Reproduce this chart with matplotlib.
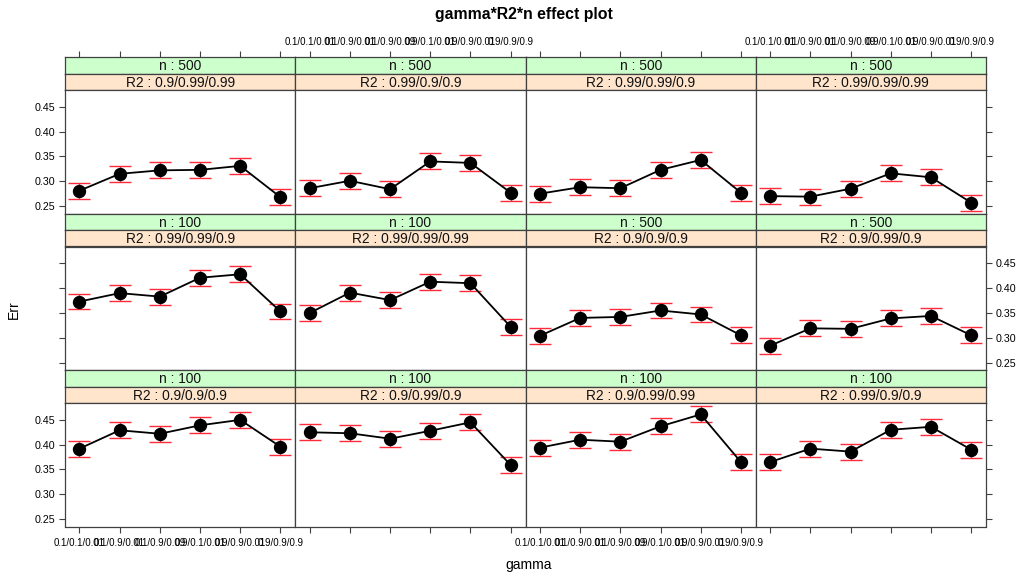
import matplotlib
matplotlib.use("Agg")
import matplotlib.pyplot as plt

plt.rcParams['font.family'] = ['Liberation Sans', 'DejaVu Sans']

# gamma levels on the x axis
gamma_labels = ["0.1/0.1/0.01", "0.1/0.9/0.01", "0.1/0.9/0.09",
                "0.9/0.1/0.01", "0.9/0.9/0.01", "0.9/0.9/0.9"]

# panels, read row by row from the top left
n_strip = ["500", "500", "500", "500",
           "100", "100", "500", "500",
           "100", "100", "100", "100"]
r2_strip = ["0.9/0.99/0.99", "0.99/0.9/0.9", "0.99/0.99/0.9", "0.99/0.99/0.99",
            "0.99/0.99/0.9", "0.99/0.99/0.99", "0.9/0.9/0.9", "0.9/0.99/0.9",
            "0.9/0.9/0.9", "0.9/0.99/0.9", "0.9/0.99/0.99", "0.99/0.9/0.9"]
err = [
    [0.281, 0.315, 0.322, 0.323, 0.331, 0.268],
    [0.286, 0.301, 0.284, 0.340, 0.337, 0.277],
    [0.275, 0.288, 0.286, 0.323, 0.343, 0.277],
    [0.270, 0.269, 0.285, 0.316, 0.308, 0.257],
    [0.373, 0.390, 0.383, 0.421, 0.428, 0.353],
    [0.350, 0.391, 0.376, 0.413, 0.410, 0.322],
    [0.304, 0.340, 0.342, 0.355, 0.347, 0.305],
    [0.284, 0.319, 0.318, 0.339, 0.344, 0.305],
    [0.392, 0.429, 0.422, 0.439, 0.450, 0.396],
    [0.425, 0.423, 0.412, 0.428, 0.445, 0.359],
    [0.394, 0.410, 0.406, 0.437, 0.461, 0.365],
    [0.365, 0.392, 0.386, 0.430, 0.436, 0.390],
]
ci_half = [0.016, 0.016, 0.016, 0.016, 0.016, 0.016,
           0.016, 0.016, 0.016, 0.016, 0.016, 0.016]
y_ticks = [0.25, 0.30, 0.35, 0.40, 0.45]

W, H = 1032, 577
fig = plt.figure(figsize=(W / 100, H / 100), dpi=100)


def box(x0, top, w, h):
    return [x0 / W, 1 - (top + h) / H, w / W, h / H]


left, col_w = 65, 230.25
top0, row_h, strip_h = 57, 156.5, 16.5
frame = '#404040'
xs = list(range(1, len(gamma_labels) + 1))

for k in range(12):
    r, c = divmod(k, 4)
    x0 = left + c * col_w
    t = top0 + r * row_h

    # strips
    for j, (txt, col) in enumerate([("n : " + n_strip[k], '#ccffcc'),
                                    ("R2 : " + r2_strip[k], '#ffe5cc')]):
        sa = fig.add_axes(box(x0, t + j * strip_h, col_w, strip_h))
        sa.set_facecolor(col)
        sa.set_xlim(0.64, 6.37)
        sa.set_yticks([])
        sa.tick_params(axis='x', bottom=False, labelbottom=False)
        for s in sa.spines.values():
            s.set_color(frame)
            s.set_linewidth(0.9)
        sa.text(0.5, 0.45, txt, transform=sa.transAxes, ha='center', va='center',
                fontsize=9.9, color='#111111')
        if r == 0 and j == 0:
            sa.set_xticks(xs)
            sa.set_xticklabels(gamma_labels)
            sa.tick_params(axis='x', top=True, labeltop=(c % 2 == 1), direction='out',
                           length=4, width=0.8, color=frame, labelsize=7, pad=3)

    ax = fig.add_axes(box(x0, t + 2 * strip_h, col_w, row_h - 2 * strip_h))
    ax.errorbar(xs, err[k], yerr=ci_half[k], fmt='none', ecolor='#ff2a3a',
                elinewidth=1.0, capsize=8, capthick=1.0, zorder=2)
    ax.plot(xs, err[k], color='black', lw=1.3, marker='o', markersize=8.6, zorder=3)
    ax.set_xlim(0.64, 6.37)
    ax.set_ylim(0.235, 0.484)
    for s in ax.spines.values():
        s.set_color(frame)
        s.set_linewidth(0.9)

    ax.set_xticks(xs)
    ax.set_xticklabels(gamma_labels)
    ax.tick_params(axis='x', bottom=(r == 2), labelbottom=(r == 2 and c % 2 == 0),
                   direction='out', length=4, width=0.8, color=frame,
                   labelsize=7, pad=4)
    ax.set_yticks(y_ticks)
    ax.set_yticklabels(["%.2f" % v for v in y_ticks])
    ax.tick_params(axis='y', left=(c == 0), right=(c == 3),
                   labelleft=(c == 0 and r != 1), labelright=(c == 3 and r == 1),
                   direction='out', length=4, width=0.8, color=frame,
                   labelsize=7.7, pad=3)

fig.text(0.508, 1 - 14 / H, "gamma*R2*n effect plot", ha='center', va='center',
         fontsize=11.4, fontweight='bold')
fig.text(14 / W, 1 - 310 / H, "Err", rotation=90, ha='center', va='center', fontsize=10)
fig.text(529 / W, 1 - 565 / H, "gamma", ha='center', va='center', fontsize=10)

fig.savefig("out.png", dpi=100)
